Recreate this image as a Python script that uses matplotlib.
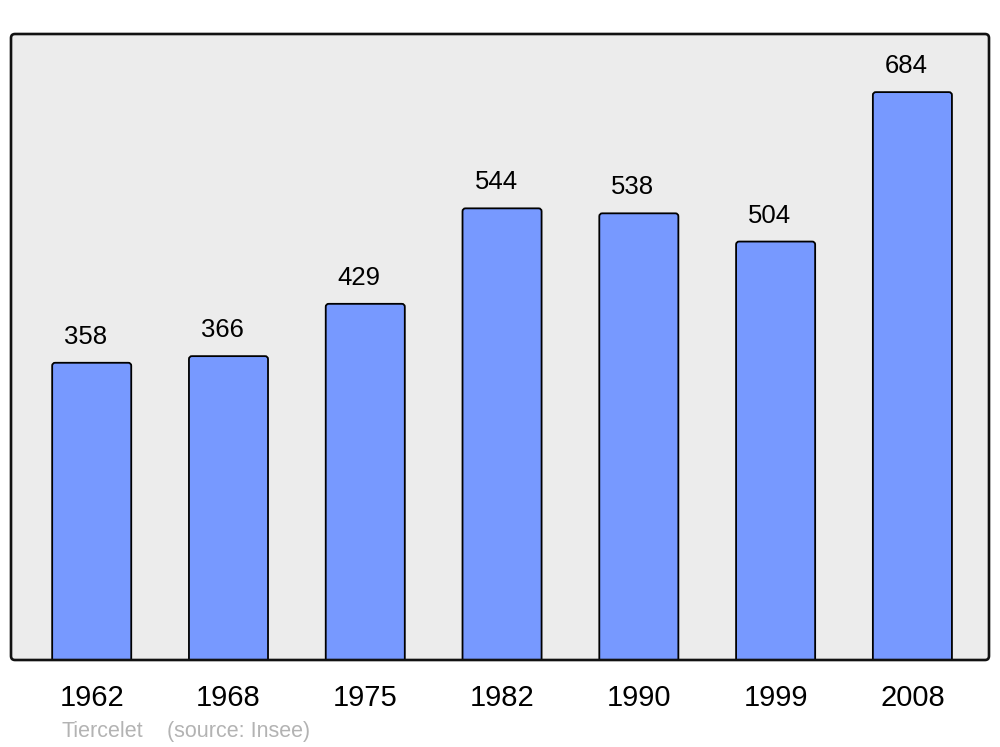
import matplotlib
matplotlib.use("Agg")
import matplotlib.pyplot as plt
from matplotlib.patches import FancyBboxPatch

plt.rcParams['font.family'] = ['Liberation Sans', 'DejaVu Sans']

years = ["1962", "1968", "1975", "1982", "1990", "1999", "2008"]
population = [358, 366, 429, 544, 538, 504, 684]
commune = "Tiercelet"
source = "(source: Insee)"

bar_color = "#7799ff"
bg_color = "#ececec"

fig = plt.figure(figsize=(10, 7.47), dpi=100)
ax = fig.add_axes([0.011, 1 - 660 / 747, 0.978, 626 / 747])
ax.set_facecolor(bg_color)

ymax = 754
xlim = (-0.59, 6.56)
ax.set_xlim(*xlim)
ax.set_ylim(0, ymax)

width = 0.578
ax_w_px = 978
ax_h_px = 626
px_per_x = ax_w_px / (xlim[1] - xlim[0])
px_per_y = ax_h_px / ymax
r_px = 3.0
aspect = px_per_x / px_per_y

for i, v in enumerate(population):
    p = FancyBboxPatch((i - width / 2, -20), width, v + 20,
                       boxstyle=f"round,pad=0,rounding_size={r_px / px_per_x}",
                       mutation_aspect=aspect,
                       facecolor=bar_color, edgecolor="black", linewidth=1.3,
                       zorder=2)
    ax.add_patch(p)
    ax.annotate(str(v), (i, v), xytext=(-6, 19), textcoords="offset pixels",
                ha="center", va="baseline", fontsize=18.5, color="black", zorder=3)

ax.set_xticks(range(len(years)))
ax.set_xticklabels(years, fontsize=21)
ax.tick_params(axis="x", length=0, pad=17)
ax.set_yticks([])
for s in ax.spines.values():
    s.set_visible(False)

frame = FancyBboxPatch((0, 0), 1, 1, transform=ax.transAxes,
                       boxstyle=f"round,pad=0,rounding_size={4 / ax_w_px}",
                       mutation_aspect=ax_w_px / ax_h_px,
                       facecolor="none", edgecolor="#111111", linewidth=1.9,
                       clip_on=False, zorder=5)
ax.add_patch(frame)

fig.text(61 / 1000, 1 - 737 / 747, commune, fontsize=15.5, color="#b3b3b3", va="baseline")
fig.text(167 / 1000, 1 - 737 / 747, source, fontsize=15.5, color="#b3b3b3", va="baseline")

fig.savefig("out.png", dpi=100)
